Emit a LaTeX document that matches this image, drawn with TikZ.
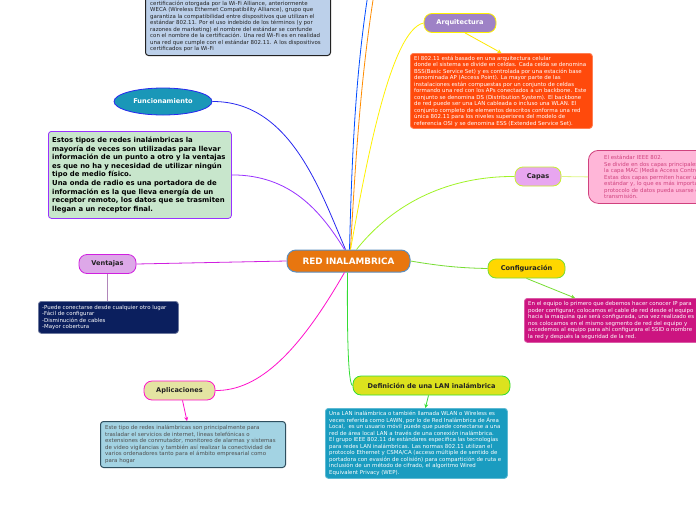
\documentclass[tikz,border=0pt]{standalone}
\usepackage{fontspec}
\setmainfont{DejaVu Sans}
\usetikzlibrary{shapes.geometric,arrows.meta}
\definecolor{hubfill}{HTML}{E8760F}
\definecolor{hubdraw}{HTML}{5B8FC0}
\definecolor{arqfill}{HTML}{9E82C6}
\definecolor{arqbox}{HTML}{FF4A0C}
\definecolor{capfill}{HTML}{E8A6F0}
\definecolor{capline}{HTML}{C8F030}
\definecolor{capbox}{HTML}{FFB6D8}
\definecolor{capdraw}{HTML}{D0427E}
\definecolor{conffill}{HTML}{FFD700}
\definecolor{confline}{HTML}{77DD33}
\definecolor{confbox}{HTML}{CC1480}
\definecolor{deffill}{HTML}{DCE21E}
\definecolor{defline}{HTML}{33DD33}
\definecolor{defbox}{HTML}{1A9CC0}
\definecolor{aplfill}{HTML}{E4E4A2}
\definecolor{aplline}{HTML}{FF10CC}
\definecolor{aplbox}{HTML}{A3D3E3}
\definecolor{apldraw}{HTML}{2F4F5F}
\definecolor{ventfill}{HTML}{DDA8E8}
\definecolor{ventline}{HTML}{D020E0}
\definecolor{ventbox}{HTML}{0B1F5E}
\definecolor{funcfill}{HTML}{1A97B8}
\definecolor{funcline}{HTML}{2828F0}
\definecolor{funcbox}{HTML}{C8E6CC}
\definecolor{funcdraw}{HTML}{9932FF}
\definecolor{topbox}{HTML}{BCD0EA}
\definecolor{darktxt}{HTML}{222222}
\begin{document}
\begin{tikzpicture}[x=1pt,y=-1pt,
  pill/.style={rounded corners=8pt, font=\fontsize{6.6}{8}\selectfont\bfseries, line width=0.8pt, inner sep=0pt, minimum height=19pt},
  boxst/.style={anchor=north west, rounded corners=3pt, line width=0.8pt, inner sep=0pt},
  tx/.style={anchor=west, align=left, inner sep=0pt, font=\fontsize{5.45}{6.5}\selectfont},
  link/.style={line width=0.8pt},
  tip/.style={line width=0.8pt, -{Stealth[length=4pt,width=4pt]}}
]
\useasboundingbox (0,0) rectangle (696,520);
\clip (0,0) rectangle (696,520);
\fill[white] (0,0) rectangle (696,520);

% off-screen targets
\coordinate (upA) at (372,-30);
\coordinate (upB) at (378,-30);

% nodes
\node[rounded corners=9pt, fill=hubfill, draw=hubdraw, line width=1pt, text=white, minimum width=123pt, minimum height=22pt, inner sep=0pt, font=\fontsize{8.8}{10}\selectfont\bfseries] (red) at (348.5,261) {RED INALAMBRICA};

\node[pill, fill=arqfill, draw=yellow, text=white, minimum width=72pt] (arq) at (460,23) {Arquitectura};
\node[pill, fill=capfill, draw=capline, text=darktxt, minimum width=46pt] (capas) at (538,176.5) {Capas};
\node[pill, fill=conffill, draw=confline, text=darktxt, minimum width=77pt] (conf) at (526.5,268.5) {Configuración};
\node[pill, fill=deffill, draw=defline, text=darktxt, minimum width=157pt] (def) at (431.5,385.5) {Definición de una LAN inalámbrica};
\node[pill, fill=aplfill, draw=aplline, text=darktxt, minimum width=71pt] (apl) at (179.5,390.5) {Aplicaciones};
\node[pill, fill=ventfill, draw=ventline, text=darktxt, minimum width=57pt] (vent) at (107.5,264) {Ventajas};
\node[ellipse, fill=funcfill, draw=funcline, line width=0.8pt, text=white, minimum width=98pt, minimum height=27pt, inner sep=0pt, font=\fontsize{6.6}{8}\selectfont\bfseries] (func) at (163,101.5) {Funcionamiento};

% text boxes
\node[boxst, fill=topbox, draw=darktxt, line width=1pt, minimum width=185pt, minimum height=61pt] (topb) at (145,-6) {};
\node[tx, text=darktxt, anchor=south west] (topt) at ([shift={(5pt,4pt)}]topb.south west) {certificación otorgada por la Wi-Fi Alliance, anteriormente\\WECA (Wireless Ethernet Compatibility Alliance), grupo que\\garantiza la compatibilidad entre dispositivos que utilizan el\\estándar 802.11. Por el uso indebido de los términos (y por\\razones de marketing) el nombre del estándar se confunde\\con el nombre de la certificación. Una red Wi-Fi es en realidad\\una red que cumple con el estándar 802.11. A los dispositivos\\certificados por la Wi-Fi};

\node[boxst, fill=arqbox, draw=arqbox!70!white, minimum width=182pt, minimum height=75pt] (arqb) at (410,53) {};
\node[tx, text=white] (arqt) at ([xshift=4pt]arqb.west) {El 802.11 está basado en una arquitectura celular\\donde el sistema se divide en celdas. Cada celda se denomina\\BSS(Basic Service Set) y es controlada por una estación base\\denominada AP (Access Point). La mayor parte de las\\instalaciones están compuestas por un conjunto de celdas\\formando una red con los APs conectados a un backbone. Este\\conjunto se denomina DS (Distribution System). El backbone\\de red puede ser una LAN cableada o incluso una WLAN. El\\conjunto completo de elementos descritos conforma una red\\única 802.11 para los niveles superiores del modelo de\\referencia OSI y se denomina ESS (Extended Service Set).};

\node[boxst, rounded corners=10pt, fill=capbox, draw=capdraw, minimum width=190pt, minimum height=53pt] (capb) at (588,150) {};
\node[tx, text=capdraw] (capt) at ([xshift=16pt]capb.west) {El estándar IEEE 802.\\Se divide en dos capas principales:\\la capa MAC (Media Access Control)\\Estas dos capas permiten hacer uso\\estándar y, lo que es más importante\\protocolo de datos pueda usarse en\\transmisión.};

\node[boxst, fill=confbox, draw=confbox!70!white, minimum width=185pt, minimum height=44pt] (confb) at (524,298) {};
\node[tx, text=white] (conft) at ([xshift=4pt]confb.west) {En el equipo lo primero que debemos hacer conocer IP para\\poder configurar, colocamos el cable de red desde el equipo\\hacia la maquina que será configurada, una vez realizado es\\nos colocamos en el mismo segmento de red del equipo y\\accedemos al equipo para ahí configurara el SSID o nombre\\la red y después la seguridad de la red.};

\node[boxst, fill=defbox, draw=defbox!70!white, minimum width=182pt, minimum height=70pt] (defb) at (325,408) {};
\node[tx, text=white] (deft) at ([xshift=4pt]defb.west) {Una LAN inalámbrica o también llamada WLAN o Wireless es\\veces referida como LAWN, por lo de Red Inalámbrica de Área\\Local,\ \ es un usuario móvil puede que puede conectarse a una\\red de área local LAN a través de una conexión inalámbrica.\\El grupo IEEE 802.11 de estándares especifica las tecnologías\\para redes LAN inalámbricas. Las normas 802.11 utilizan el\\protocolo Ethernet y CSMA/CA (acceso múltiple de sentido de\\portadora con evasión de colisión) para compartición de ruta e\\inclusión de un método de cifrado, el algoritmo Wired\\Equivalent Privacy (WEP).};

\node[boxst, fill=aplbox, draw=apldraw, line width=1pt, minimum width=185pt, minimum height=46pt] (aplb) at (100,421) {};
\node[tx, text=darktxt!80!white] (aplt) at ([xshift=5pt]aplb.west) {Este tipo de redes inalámbricas son principalmente para\\trasladar el servicios de internet, líneas telefónicas o\\extensiones de conmutador, monitoreo de alarmas y sistemas\\de video vigilancias y también así realizar la conectividad de\\varios ordenadores tanto para el ámbito empresarial como\\para hogar};

\node[boxst, fill=ventbox, draw=ventbox!60!white, minimum width=140pt, minimum height=32pt] (ventb) at (38,301) {};
\node[tx, text=white] (ventt) at ([xshift=4pt]ventb.west) {-Puede conectarse desde cualquier otro lugar\\-Fácil de configurar\\-Disminución de cables\\-Mayor cobertura};

\node[boxst, fill=funcbox, draw=funcdraw, minimum width=183pt, minimum height=87pt] (funcb) at (48,131) {};
\node[tx, text=black, font=\fontsize{6.9}{8.6}\selectfont\bfseries] (funct) at ([xshift=4pt]funcb.west) {Estos tipos de redes inalámbricas la\\mayoría de veces son utilizadas para llevar\\información de un punto a otro y la ventajas\\es que no ha y necesidad de utilizar ningún\\tipo de medio físico.\\Una onda de radio es una portadora de de\\información es la que lleva energía de un\\receptor remoto, los datos que se trasmiten\\llegan a un receptor final.};

% connectors
\draw[link, draw=blue!70!cyan] ([xshift=1pt]red.north) .. controls (352,150) and (356,60) .. (upA);
\draw[link, draw=orange!90!yellow] ([xshift=2pt]red.north) .. controls (356,150) and (362,60) .. (upB);
\draw[link, draw=yellow] ([xshift=2pt]red.north) .. controls (365,170) and (390,30) .. (arq.west);
\draw[link, draw=funcline] ([xshift=-3pt]red.north) .. controls (320,190) and (290,101) .. (func.east);
\draw[link, draw=funcdraw] ([xshift=-4pt]red.north) .. controls (320,210) and (290,175) .. (funcb.east);
\draw[link, draw=capline!80!green] ([xshift=8pt]red.north) .. controls (400,195) and (460,176) .. (capas.west);
\draw[link, draw=confline] (red.east) .. controls (440,266) and (460,268) .. (conf.west);
\draw[link, draw=defline] ([xshift=-1pt]red.south) .. controls (347,330) and (348,385) .. (def.west);
\draw[link, draw=aplline] ([xshift=-4pt]red.south) .. controls (300,350) and (260,391) .. (apl.east);
\draw[link, draw=ventline] (red.west) -- (vent.east);

\draw[tip, draw=yellow!90!orange] ([xshift=5pt]arq.south) -- (arqb.north);
\draw[link, draw=capline!60!white] (capas.east) -- (capb.west);
\draw[tip, draw=confline] (conf.south) -- ([xshift=51pt]confb.north west);
\draw[tip, draw=defline] ([xshift=-3pt]def.south) -- ([xshift=9pt]defb.north);
\draw[tip, draw=aplline] ([xshift=3pt]apl.south) -- ([xshift=87pt]aplb.north west);
\draw[link, draw=ventfill!80!black] (vent.south) -- (vent.south |- ventb.north);
\end{tikzpicture}
\end{document}
